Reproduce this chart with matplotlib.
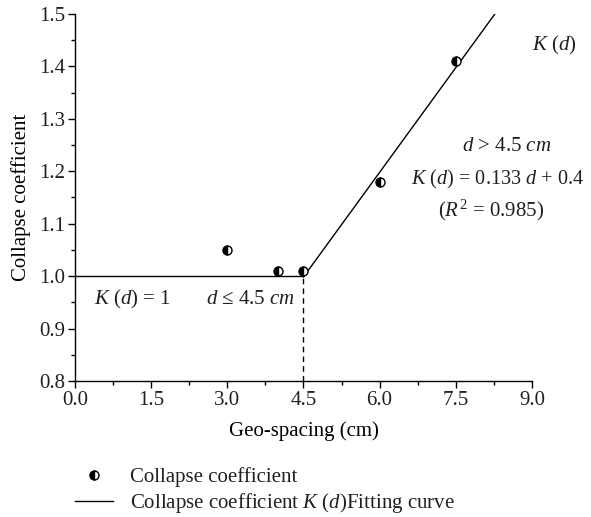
import matplotlib
matplotlib.use("Agg")
import matplotlib.pyplot as plt
from matplotlib.ticker import MultipleLocator
from matplotlib.lines import Line2D

plt.rcParams["font.family"] = ["Liberation Serif", "DejaVu Serif"]
plt.rcParams["mathtext.fontset"] = "custom"
plt.rcParams["mathtext.rm"] = "Liberation Serif"
plt.rcParams["mathtext.it"] = "Liberation Serif:italic"
plt.rcParams["text.color"] = "#231f20"

# measured points
spacing = [3.0, 4.0, 4.5, 6.0, 7.5]
coef = [1.05, 1.01, 1.01, 1.18, 1.41]

# piecewise fit K(d)
d_break = 4.5
flat_x = [0.0, d_break]
flat_y = [1.0, 1.0]
slope, intercept = 0.133, 0.4
fit_x = [d_break, (1.5 - intercept) / slope]
fit_y = [slope * x + intercept for x in fit_x]

fig = plt.figure(figsize=(5.91, 5.17), dpi=100)
ax = fig.add_axes([0.127, 0.263, 0.773, 0.71])

ax.plot(flat_x, flat_y, color="black", lw=1)
ax.plot(fit_x, fit_y, color="black", lw=1)
ax.plot([d_break, d_break], [0.8, 1.0], color="black", lw=1, ls=(0, (4, 3)))
ax.plot(spacing, coef, ls="none", marker="o", ms=6.5, fillstyle="left",
        markerfacecolor="black", markerfacecoloralt="white",
        markeredgecolor="black", markeredgewidth=1, clip_on=False, zorder=5)

ax.set_xlim(0, 9)
ax.set_ylim(0.8, 1.5)
ax.xaxis.set_major_locator(MultipleLocator(1.5))
ax.xaxis.set_minor_locator(MultipleLocator(0.75))
ax.yaxis.set_major_locator(MultipleLocator(0.1))
ax.yaxis.set_minor_locator(MultipleLocator(0.05))
ax.xaxis.set_major_formatter(plt.FormatStrFormatter("%.1f"))
ax.yaxis.set_major_formatter(plt.FormatStrFormatter("%.1f"))
ax.tick_params(which="both", direction="out", labelsize=15, width=1,
               labelcolor="#231f20", pad=2)
ax.tick_params(which="major", length=5)
ax.tick_params(which="minor", length=3)
ax.spines["top"].set_visible(False)
ax.spines["right"].set_visible(False)
ax.spines["left"].set_linewidth(1)
ax.spines["bottom"].set_linewidth(1)

ax.set_xlabel("Geo-spacing (cm)", fontsize=15, labelpad=8)
ax.set_ylabel("Collapse coefficient", fontsize=15, labelpad=6)

fs = 15
ax.text(9.45, 1.44, r"$K$ ($d$)", fontsize=fs, ha="center", va="center", clip_on=False)
ax.text(8.5, 1.247, r"$d$ > 4.5 $cm$", fontsize=fs, ha="center", va="center", clip_on=False)
ax.text(8.33, 1.184, r"$K$ ($d$) = 0.133 $d$ + 0.4", fontsize=14.6, ha="center", va="center", clip_on=False)
ax.text(8.2, 1.125, r"($R^2$ = 0.985)", fontsize=fs, ha="center", va="center", clip_on=False)
ax.text(1.14, 0.955, r"$K$ ($d$) = 1", fontsize=fs, ha="center", va="center")
ax.text(3.46, 0.955, r"$d$ ≤ 4.5 $cm$", fontsize=fs, ha="center", va="center")

handles = [
    Line2D([], [], ls="none", marker="o", ms=6.5, fillstyle="left",
           markerfacecolor="black", markerfacecoloralt="white",
           markeredgecolor="black"),
    Line2D([], [], color="black", lw=1),
]
labels = ["Collapse coefficient", r"Collapse coefficient $K$ ($d$)Fitting curve"]
fig.legend(handles, labels, loc="upper left", bbox_to_anchor=(0.127, 0.096),
           bbox_transform=fig.transFigure, frameon=False, fontsize=15,
           handlelength=1.8, handletextpad=0.85, labelspacing=0.2,
           borderaxespad=0, borderpad=0)

fig.savefig("out.png", dpi=100)
